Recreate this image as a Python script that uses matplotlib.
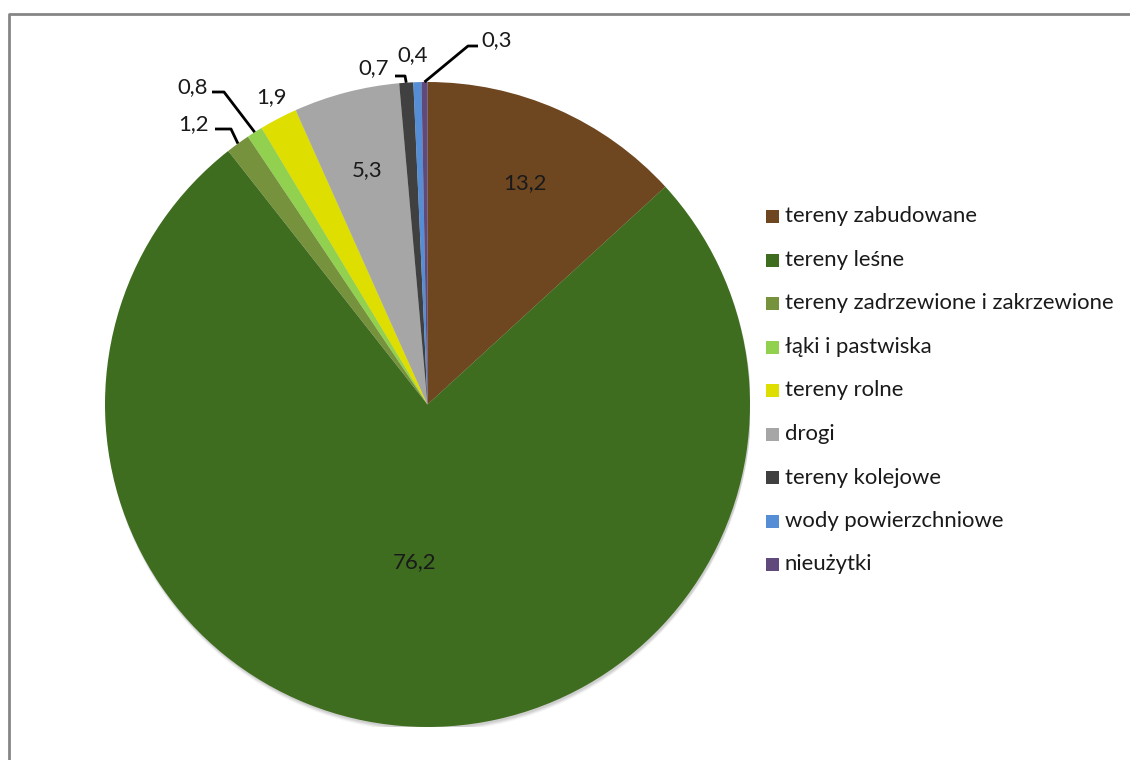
import numpy as np
import matplotlib
matplotlib.use("Agg")
import matplotlib.pyplot as plt
from matplotlib.patches import Circle, Rectangle
from matplotlib.lines import Line2D

plt.rcParams["font.family"] = ["Lato", "DejaVu Sans"]

categories = ["tereny zabudowane", "tereny leśne", "tereny zadrzewione i zakrzewione",
              "łąki i pastwiska", "tereny rolne", "drogi", "tereny kolejowe",
              "wody powierzchniowe", "nieużytki"]
values = [13.2, 76.2, 1.2, 0.8, 1.9, 5.3, 0.7, 0.4, 0.3]
colors = ["#6E4720", "#3F6D1F", "#76923C", "#92D050", "#DEDE00",
          "#A6A6A6", "#404040", "#558ED5", "#604A7B"]

W, H = 1130, 760
cx, cy, R = 427.5, 404.5, 322.5
txt_color = "#1a1a1a"
fs = 15.9

def px(x, y):
    # pixel position -> pie data coords
    return (x - cx) / R, (cy - y) / R

fig = plt.figure(figsize=(W / 100, H / 100), dpi=100)
ax = fig.add_axes([(cx - R) / W, (H - cy - R) / H, 2 * R / W, 2 * R / H])

# soft shadow under the pie
for dy, a in [(5, 0.05), (4, 0.07), (3, 0.09), (2, 0.1)]:
    ax.add_patch(Circle((1.0 / R, -dy / R), 1.0, color="#555555", alpha=a, lw=0, zorder=0))

wedges, _ = ax.pie(values, colors=colors, startangle=90, counterclock=False,
                   radius=1.0, wedgeprops=dict(linewidth=0))
ax.set_xlim(-1, 1)
ax.set_ylim(-1, 1)
ax.set_aspect("equal")
ax.axis("off")

def fmt(v):
    return f"{v:.1f}".replace(".", ",")

# labels inside the bigger slices: index -> radius
inside = {0: 0.75, 1: 0.49, 5: 0.75}
for i, r in inside.items():
    w = wedges[i]
    mid = np.deg2rad((w.theta1 + w.theta2) / 2)
    ax.text(r * np.cos(mid), r * np.sin(mid), fmt(values[i]), ha="center", va="center",
            fontsize=fs, color=txt_color)

# labels outside the thin slices: index -> (label pos, elbow pos or None)
outside = {
    2: ((194, 124), [(215, 129), (231, 129)]),
    3: ((193, 87), [(212, 92), (224, 92)]),
    4: ((271, 97), None),
    6: ((374, 68), [(395, 76), (405, 76)]),
    7: ((413, 55), None),
    8: ((497, 40), [(478, 46), (468, 46)]),
}
for i, (pos, elbow) in outside.items():
    lx, ly = px(*pos)
    ax.text(lx, ly, fmt(values[i]), ha="center", va="center", fontsize=fs, color=txt_color)
    if elbow:
        w = wedges[i]
        mid = np.deg2rad((w.theta1 + w.theta2) / 2)
        pts = [px(*p) for p in elbow] + [(np.cos(mid), np.sin(mid))]
        xs, ys = zip(*pts)
        ax.plot(xs, ys, color="black", lw=2, solid_capstyle="butt", clip_on=False)

# legend
y0, step = 216.5, 43.5
for i, (lab, c) in enumerate(zip(categories, colors)):
    y = y0 + i * step
    fig.patches.append(Rectangle((766 / W, 1 - (y + 6.5) / H), 13 / W, 13 / H,
                                 transform=fig.transFigure, color=c, lw=0))
    fig.text(785 / W, 1 - y / H, lab, ha="left", va="center", fontsize=fs, color=txt_color)

# chart frame
fig.add_artist(Line2D([1.01, 8.5 / W, 8.5 / W], [1 - 13.5 / H, 1 - 13.5 / H, -0.01],
                      transform=fig.transFigure, color="#868686", lw=2))

fig.savefig("out.png", dpi=100)
